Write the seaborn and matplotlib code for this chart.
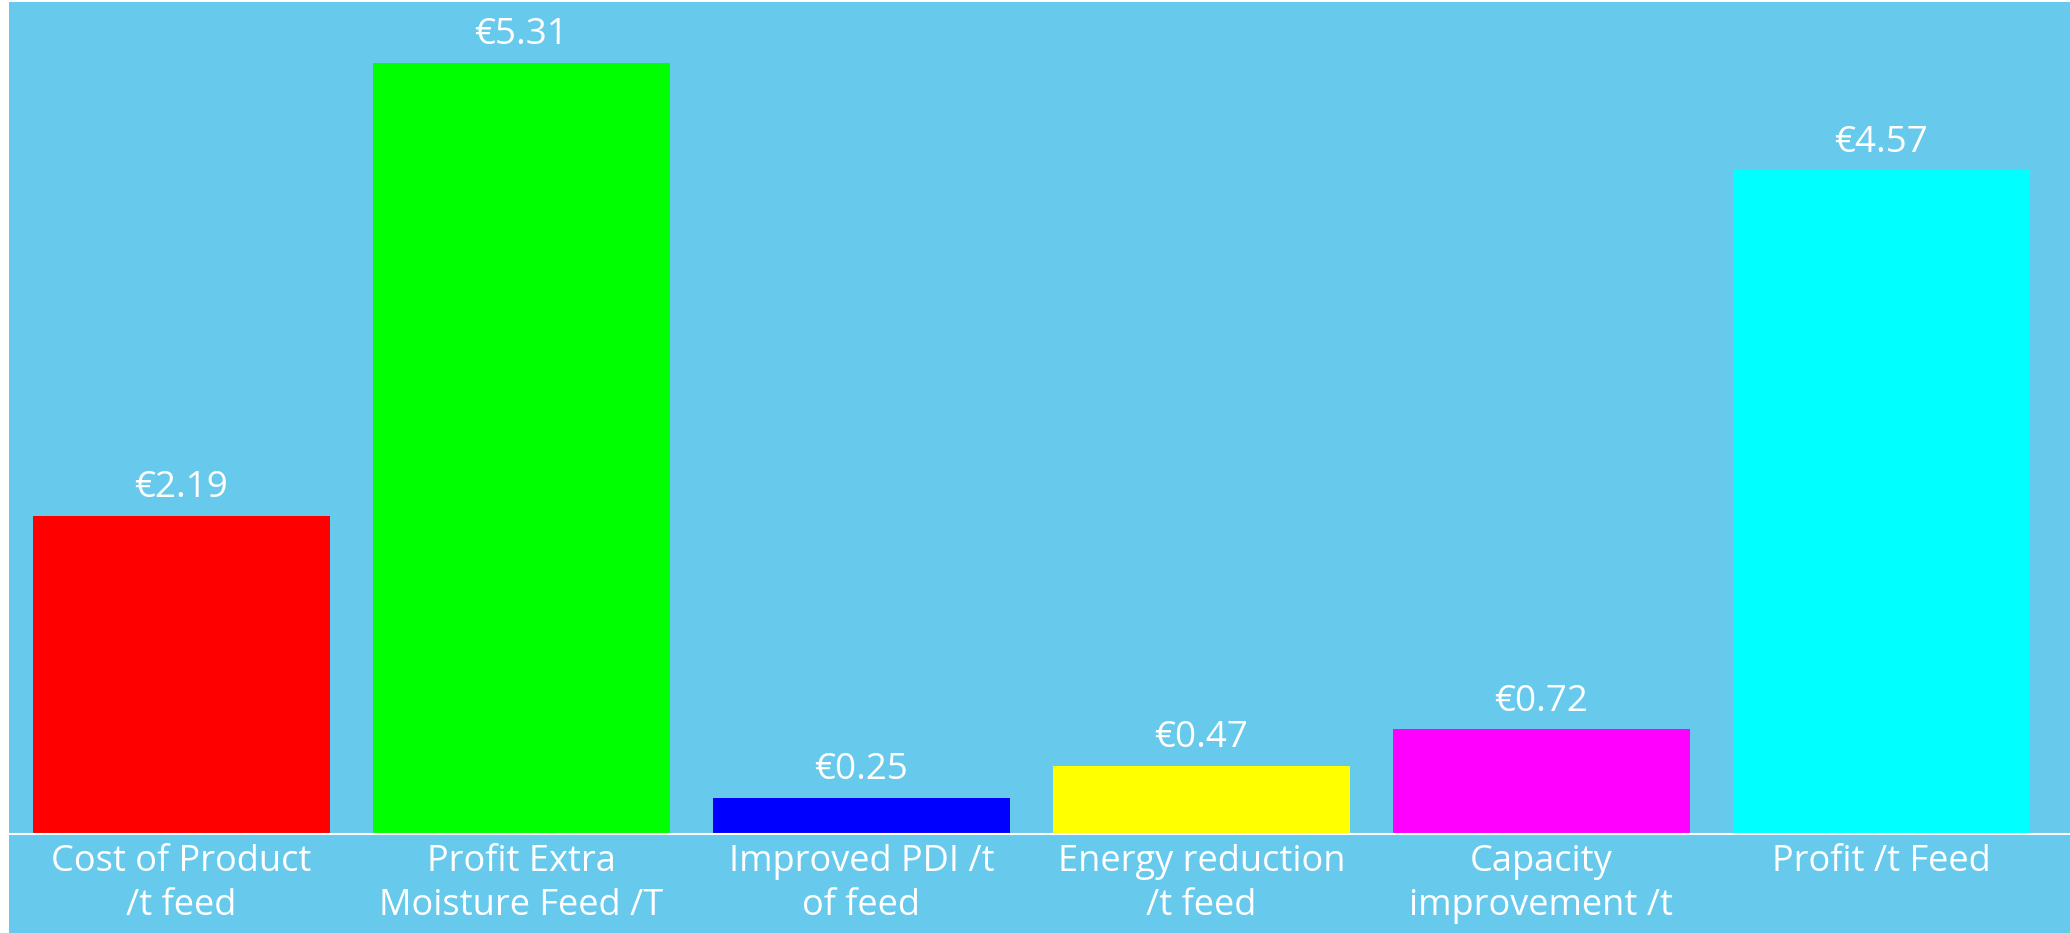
import matplotlib
matplotlib.use("Agg")
import matplotlib.pyplot as plt
from matplotlib.patches import Rectangle
import seaborn as sns
import pandas as pd

# Per-tonne economics of the feed conditioning programme
categories = [
    "Cost of Product\n/t feed",
    "Profit Extra\nMoisture Feed /T",
    "Improved PDI /t\nof feed",
    "Energy reduction\n/t feed",
    "Capacity\nimprovement /t",
    "Profit /t Feed",
]
values = [2.19, 5.31, 0.25, 0.47, 0.72, 4.57]
value_labels = ["€2.19", "€5.31", "€0.25", "€0.47", "€0.72", "€4.57"]
bar_colors = ["#FF0000", "#00FF00", "#0000FF", "#FFFF00", "#FF00FF", "#00FFFF"]

BG = "#67CAEC"
FONT = ["Open Sans", "DejaVu Sans"]

sns.set_theme(style="white")
plt.rcParams["font.family"] = FONT

W, H = 2070, 933
fig = plt.figure(figsize=(W / 100, H / 100), dpi=100, facecolor="white")

# blue panel behind the chart, leaving a thin white margin on the left/top
fig.patches.append(Rectangle((9 / W, 0), 1 - 9 / W, 931 / H,
                             transform=fig.transFigure, facecolor=BG,
                             edgecolor="none", zorder=-10))

ax = fig.add_axes([9 / W, 99 / H, 1 - 9 / W, (834 - 2) / H])
ax.set_zorder(5)
ax.patch.set_visible(False)

df = pd.DataFrame({"category": categories, "value": values})
sns.barplot(data=df, x="category", y="value", hue="category",
            palette=bar_colors, saturation=1, width=0.873,
            legend=False, ax=ax, edgecolor="none")

ax.set_xlim(-0.507, 5.555)
ax.set_ylim(0, 5.73)

for i, (v, lab) in enumerate(zip(values, value_labels)):
    ax.annotate(lab, xy=(i, v), xytext=(0, 13.5), textcoords="offset points",
                ha="center", va="baseline", color="white", fontsize=26.5,
                family=FONT)

ax.set_xlabel("")
ax.set_ylabel("")
ax.set_yticks([])
ax.tick_params(axis="x", length=0, pad=7, colors="white", labelsize=26)
for t in ax.get_xticklabels():
    t.set_linespacing(1.3)

for s in ["top", "right", "left"]:
    ax.spines[s].set_visible(False)
ax.spines["bottom"].set_color("white")
ax.spines["bottom"].set_linewidth(1.5)

fig.savefig("out.png", dpi=100, facecolor="white")
